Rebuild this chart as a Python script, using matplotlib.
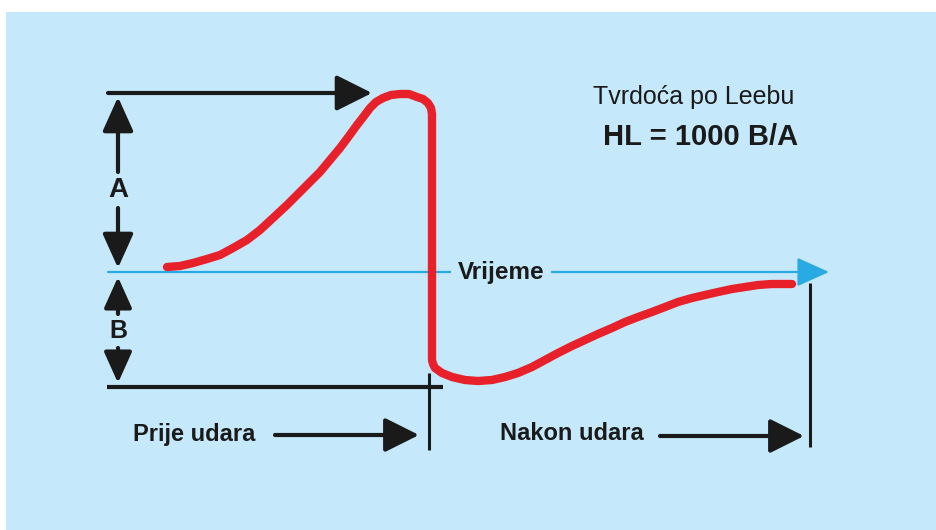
import matplotlib.pyplot as plt
from matplotlib.patches import Rectangle

# Red curve (pixel coordinates, y down)
curve_x = [167, 180, 193, 207, 220, 233, 247, 260, 273, 287, 300, 310, 320, 330, 340, 349, 357, 364,
           370, 376, 383, 391, 400, 409, 417, 423, 428, 431, 432,
           432, 433, 435, 442, 452, 465, 478, 492, 505, 518, 532, 545, 558, 572, 585, 598, 612, 625,
           638, 652, 665, 678, 692, 705, 718, 732, 745, 758, 772, 782, 792]
curve_y = [267, 266, 263, 259, 255, 248, 240, 230, 218, 205, 192, 182, 172, 160, 148, 136, 125, 116,
           108, 102, 98, 95, 94, 94, 97, 99, 103, 108, 114,
           360, 364, 368, 373, 377, 380, 381, 380, 377, 373, 367, 360, 353, 346, 340, 334, 328, 322,
           317, 312, 307, 302, 298, 295, 292, 289, 287, 285, 284, 284, 284]

title_lines = ['Tvrdoća po Leebu', 'HL = 1000 B/A']
time_label = 'Vrijeme'
phase_labels = ['Prije udara', 'Nakon udara']

bg = '#C5E9FB'
black = '#1a1a1a'
red = '#E8202A'
cyan = '#2AAAE2'

plt.rcParams['font.family'] = ['Liberation Sans', 'DejaVu Sans']

fig = plt.figure(figsize=(9.37, 5.30), dpi=100)
fig.patch.set_facecolor('white')
ax = fig.add_axes([0, 0, 1, 1])
ax.set_xlim(0, 937)
ax.set_ylim(530, 0)
ax.axis('off')

ax.add_patch(Rectangle((6, 12), 931, 518, facecolor=bg, edgecolor='none', zorder=0))


def arrow(x0, y0, x1, y1, color=black, lw=3, hl=1.0, hw=0.5, ms=22):
    ax.annotate('', xy=(x1, y1), xytext=(x0, y0),
                arrowprops=dict(arrowstyle=f'-|>,head_length={hl},head_width={hw}',
                                color=color, lw=lw, shrinkA=0, shrinkB=0,
                                mutation_scale=ms), zorder=3)


# time axis
arrow(108, 272, 829, 272, color=cyan, lw=1.6, hl=1.0, hw=0.45, ms=20)
ax.text(501, 272, time_label, ha='center', va='center', fontsize=17.5, fontweight='bold',
        color=black, zorder=4,
        bbox=dict(facecolor=bg, edgecolor='none', pad=5))

# top arrow
arrow(108, 93, 372, 93, lw=3, hl=1.0, hw=0.5, ms=22)

# A and B dimension arrows
arrow(118, 172, 118, 97, lw=3, hl=1.0, hw=0.45, ms=21)
arrow(118, 208, 118, 268, lw=3, hl=1.0, hw=0.45, ms=21)
ax.text(118, 190, 'A', ha='center', va='center', fontsize=20, fontweight='bold', color=black)
arrow(118, 314, 118, 277, lw=3, hl=1.0, hw=0.45, ms=19)
arrow(118, 348, 118, 383, lw=3, hl=1.0, hw=0.45, ms=19)
ax.text(118, 331, 'B', ha='center', va='center', fontsize=18, fontweight='bold', color=black)

# bottom line and markers
ax.plot([107, 443], [387, 387], color=black, lw=3, solid_capstyle='butt', zorder=3)
ax.plot([429, 429], [373, 450], color=black, lw=2.2, solid_capstyle='butt', zorder=3)
ax.plot([810, 810], [283, 447], color=black, lw=2.2, solid_capstyle='butt', zorder=3)

# phase labels
ax.text(133, 434, phase_labels[0], ha='left', va='center', fontsize=17, fontweight='bold', color=black)
arrow(275, 435, 419, 435, lw=3, hl=1.0, hw=0.5, ms=21)
ax.text(500, 434, phase_labels[1], ha='left', va='center', fontsize=17, fontweight='bold', color=black)
arrow(660, 436, 804, 436, lw=3, hl=1.0, hw=0.5, ms=21)

# red curve
ax.plot(curve_x, curve_y, color=red, lw=6, solid_capstyle='round', solid_joinstyle='round', zorder=5)

# title
ax.text(593, 97, title_lines[0], ha='left', va='center', fontsize=18, color=black)
ax.text(603, 137, title_lines[1], ha='left', va='center', fontsize=21, fontweight='bold', color=black)

fig.savefig('out.png', dpi=100, facecolor='white')
